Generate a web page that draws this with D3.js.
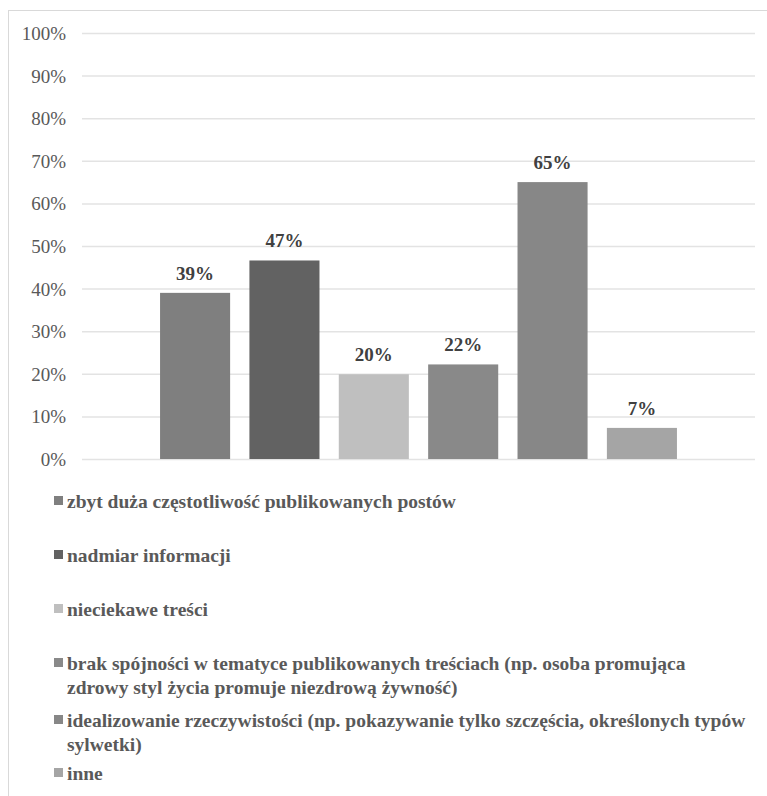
<!DOCTYPE html>
<html><head><meta charset="utf-8">
<script src="https://cdn.jsdelivr.net/npm/d3@7"></script>
<style>body{margin:0;background:#fff}svg{display:block}
svg text{font-family:"Liberation Serif","Times New Roman",Times,serif}</style>
</head><body>
<script>
const categories = [
  "zbyt duża częstotliwość publikowanych postów",
  "nadmiar informacji",
  "nieciekawe treści",
  "brak spójności w tematyce publikowanych treściach (np. osoba promująca zdrowy styl życia promuje niezdrową żywność)",
  "idealizowanie rzeczywistości (np. pokazywanie tylko szczęścia, określonych typów sylwetki)",
  "inne"
];
const legendLines = [
  ["zbyt duża częstotliwość publikowanych postów"],
  ["nadmiar informacji"],
  ["nieciekawe treści"],
  ["brak spójności w tematyce publikowanych treściach (np. osoba promująca", "zdrowy styl życia promuje niezdrową żywność)"],
  ["idealizowanie rzeczywistości (np. pokazywanie tylko szczęścia, określonych typów", "sylwetki)"],
  ["inne"]
];
const values = [0.39, 0.466, 0.199, 0.222, 0.65, 0.073];
const colors = ["#7f7f7f", "#626262", "#bfbfbf", "#898989", "#878787", "#a5a5a5"];
const yTicks = [0, 0.1, 0.2, 0.3, 0.4, 0.5, 0.6, 0.7, 0.8, 0.9, 1.0];

const W = 767, H = 796;
const svg = d3.select("body").append("svg").attr("width", W).attr("height", H);

// chart border
svg.append("rect").attr("x", 8.5).attr("y", 10.5).attr("width", W + 10).attr("height", H + 10)
  .attr("fill", "none").attr("stroke", "#d9d9d9").attr("stroke-width", 1);

const plot = {left: 82, right: 755, top: 33, bottom: 459};
const y = d3.scaleLinear().domain([0, 1]).range([plot.bottom, plot.top]);
const x = d3.scaleBand().domain(d3.range(categories.length))
  .range([150.4, 686.6]).paddingInner(0.216).paddingOuter(0.108);

// gridlines
const yAxis = d3.axisLeft(y).tickValues(yTicks).tickFormat(d3.format(".0%"))
  .tickSize(-(plot.right - plot.left)).tickPadding(16);
const ga = svg.append("g").attr("transform", `translate(${plot.left},0)`).call(yAxis);
ga.attr("font-family", null);
ga.select(".domain").remove();
ga.selectAll(".tick line").attr("stroke", "#e3e3e3").attr("stroke-width", 1.5);
ga.selectAll(".tick text").attr("font-size", 19).attr("fill", "#595959").attr("x", -16).attr("dy", "0.34em");

// bars
svg.append("g").selectAll("rect").data(values).join("rect")
  .attr("x", (d, i) => x(i)).attr("width", x.bandwidth())
  .attr("y", d => y(d)).attr("height", d => y(0) - y(d))
  .attr("fill", (d, i) => colors[i]);

// value labels
svg.append("g").selectAll("text").data(values).join("text")
  .attr("x", (d, i) => x(i) + x.bandwidth() / 2).attr("y", d => y(d) - 13)
  .attr("text-anchor", "middle")
  .attr("font-weight", "bold").attr("font-size", 19).attr("fill", "#404040")
  .text(d => d3.format(".0%")(d));

// legend
const legendY = [502, 556, 610, 664, 721, 774];
const lg = svg.append("g");
legendLines.forEach((lines, i) => {
  const g = lg.append("g").attr("transform", `translate(0,${legendY[i]})`);
  g.append("rect").attr("x", 54).attr("y", -6).attr("width", 9).attr("height", 9).attr("fill", colors[i]);
  lines.forEach((t, j) => {
    g.append("text").attr("x", 67).attr("y", j * 24 + 6)
      .attr("font-weight", "bold").attr("font-size", 19.5).attr("fill", "#595959")
      .text(t);
  });
});
</script>
</body></html>
